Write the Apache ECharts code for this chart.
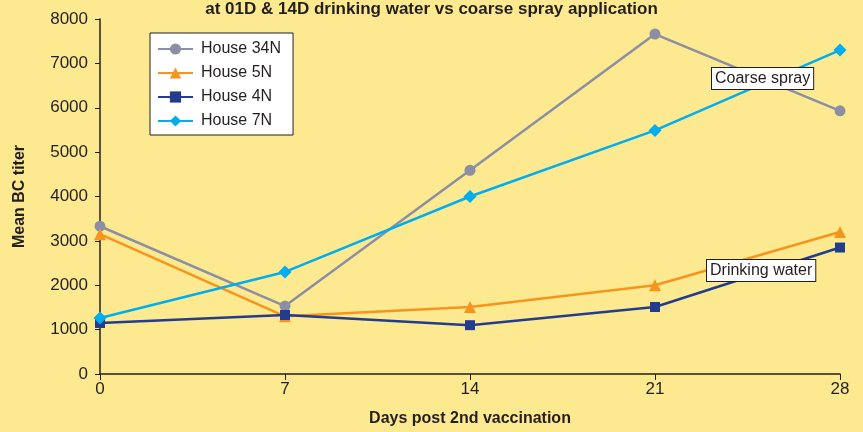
<!DOCTYPE html>
<html>
<head>
<meta charset="utf-8">
<script src="https://cdn.jsdelivr.net/npm/echarts@6/dist/echarts.min.js"></script>
<style>
  html, body { margin: 0; padding: 0; background: #fde98f; }
  #chart { width: 863px; height: 432px; }
</style>
</head>
<body>
<div id="chart"></div>
<script>
var days = ['0', '7', '14', '21', '28'];
var house34N = [3330, 1530, 4590, 7660, 5930];
var house5N = [3150, 1300, 1510, 2000, 3200];
var house4N = [1150, 1330, 1100, 1510, 2850];
var house7N = [1260, 2300, 4000, 5490, 7300];

var font = '"Liberation Sans", sans-serif';
var ink = '#231f20';
var chart = echarts.init(document.getElementById('chart'));

function line(name, data, color, symbol, size) {
  return {
    name: name,
    type: 'line',
    data: data,
    symbol: symbol,
    symbolSize: size,
    lineStyle: { color: color, width: 2.5 },
    itemStyle: { color: color },
    z: 3
  };
}

var option = {
  backgroundColor: '#fde98f',
  animation: false,
  title: {
    text: 'at 01D & 14D drinking water vs coarse spray application',
    left: 'center',
    top: -4,
    textStyle: { fontFamily: font, fontSize: 17, fontWeight: 'bold', color: ink }
  },
  grid: { left: 100, right: 23, top: 19, bottom: 58 },
  legend: {
    orient: 'vertical',
    left: 150,
    top: 33,
    padding: [8, 12, 6, 7],
    itemWidth: 35,
    itemHeight: 14,
    itemGap: 8,
    backgroundColor: '#ffffff',
    borderColor: ink,
    borderWidth: 1,
    textStyle: { fontFamily: font, fontSize: 16, color: ink, padding: [0, 0, 0, 3] }
  },
  xAxis: {
    type: 'category',
    data: days,
    boundaryGap: false,
    name: 'Days post 2nd vaccination',
    nameLocation: 'middle',
    nameGap: 37,
    nameTextStyle: { fontFamily: font, fontSize: 16, fontWeight: 'bold', color: ink },
    axisLine: { lineStyle: { color: ink, width: 1.5 } },
    axisTick: { alignWithLabel: true, length: 6, lineStyle: { color: ink } },
    axisLabel: { fontFamily: font, fontSize: 17, color: ink, margin: 7 },
    splitLine: { show: false }
  },
  yAxis: {
    type: 'value',
    min: 0,
    max: 8000,
    interval: 1000,
    name: 'Mean BC titer',
    nameLocation: 'middle',
    nameGap: 72,
    nameTextStyle: { fontFamily: font, fontSize: 16, fontWeight: 'bold', color: ink },
    axisLine: { show: true, lineStyle: { color: ink, width: 1.5 } },
    axisTick: { show: true, length: 5, lineStyle: { color: ink } },
    axisLabel: {
      fontFamily: font, fontSize: 17, color: ink, margin: 12,
      formatter: function (v) { return String(v); }
    },
    splitLine: { show: false }
  },
  series: [
    line('House 34N', house34N, '#8c8fa3', 'circle', 11),
    line('House 5N', house5N, '#f7941d', 'triangle', 12),
    line('House 4N', house4N, '#233c8e', 'rect', 10),
    line('House 7N', house7N, '#00aeef', 'diamond', 13)
  ],
  graphic: [
    {
      type: 'text', left: 711, top: 67, z: 10,
      style: {
        text: 'Coarse spray', fontFamily: font, fontSize: 16, fill: ink,
        backgroundColor: '#ffffff', borderColor: ink, borderWidth: 1,
        padding: [3, 3, 2, 3]
      }
    },
    {
      type: 'text', left: 706, top: 259, z: 10,
      style: {
        text: 'Drinking water', fontFamily: font, fontSize: 16, fill: ink,
        backgroundColor: '#ffffff', borderColor: ink, borderWidth: 1,
        padding: [3, 3, 2, 3]
      }
    }
  ]
};
chart.setOption(option);
</script>
</body>
</html>
